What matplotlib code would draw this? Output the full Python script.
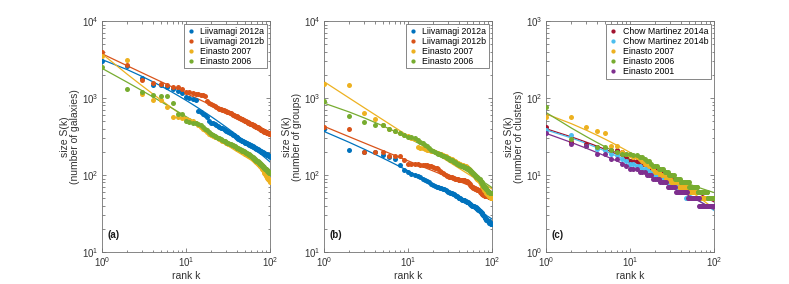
import numpy as np
import matplotlib
matplotlib.use("Agg")
import matplotlib.pyplot as plt
from matplotlib.ticker import LogLocator, LogFormatterSciNotation, NullFormatter

plt.rcParams['font.family'] = ['Liberation Sans', 'DejaVu Sans']
plt.rcParams['mathtext.fontset'] = 'custom'
plt.rcParams['mathtext.rm'] = 'Liberation Sans'
plt.rcParams['mathtext.default'] = 'regular'

rank = list(range(1, 101))

# ---- panel (a): galaxies ----
a_liiv12a = [3050, 2600, 1800, 1480, 1480, 1380, 1300, 1220, 1150, 1040,
             1000, 960, 930, 680, 650, 620, 600, 560, 500, 480,
             470, 460, 448, 435, 422, 412, 402, 393, 384, 375,
             368, 361, 354, 347, 340, 333, 326, 320, 314, 308,
             300, 296, 291, 287, 283, 279, 276, 273, 270, 267,
             264, 261, 258, 255, 252, 249, 246, 244, 242, 240,
             238, 236, 233, 231, 229, 227, 225, 222, 220, 218,
             216, 214, 212, 210, 208, 206, 204, 203, 201, 200,
             198, 197, 195, 194, 193, 191, 190, 189, 187, 186,
             185, 184, 182, 181, 180, 178, 177, 176, 174, 173]
a_liiv12b = [3900, 2700, 1700, 1580, 1500, 1460, 1400, 1380, 1300, 1200,
             1180, 1160, 1140, 1120, 1100, 1080, 1050, 920, 860, 830,
             800, 780, 760, 745, 730, 715, 700, 690, 680, 670,
             660, 650, 640, 630, 620, 610, 600, 592, 585, 578,
             570, 562, 555, 548, 541, 534, 528, 522, 516, 510,
             504, 498, 492, 486, 480, 474, 470, 466, 462, 458,
             454, 450, 446, 442, 438, 434, 430, 426, 422, 418,
             414, 410, 406, 402, 398, 394, 391, 388, 385, 382,
             379, 376, 373, 370, 368, 366, 364, 362, 360, 358,
             356, 354, 352, 350, 348, 347, 346, 345, 344, 343]
a_ein07 = [3500, 3150, 1130, 940, 940, 765, 560, 560, 550, 533,
           520, 500, 470, 440, 420, 400, 380, 360, 345, 330,
           325, 316, 308, 300, 292, 285, 279, 273, 268, 263,
           259, 255, 251, 247, 243, 239, 235, 231, 227, 223,
           220, 217, 214, 211, 208, 205, 202, 199, 196, 193,
           190, 188, 186, 184, 182, 180, 178, 175, 172, 169,
           166, 163, 160, 158, 155, 153, 150, 148, 146, 144,
           142, 140, 138, 136, 134, 132, 130, 128, 126, 124,
           121, 118, 115, 112, 109, 106, 104, 102, 100, 98,
           96, 94, 92, 90, 89, 88, 87, 86, 84, 82]
a_ein06 = [2550, 1300, 1200, 1085, 1050, 1050, 870, 620, 620, 500,
           490, 480, 470, 455, 440, 420, 400, 385, 360, 340,
           330, 320, 312, 305, 298, 291, 285, 279, 273, 268,
           263, 259, 255, 251, 247, 243, 239, 235, 231, 227,
           224, 221, 219, 217, 214, 211, 208, 205, 202, 199,
           196, 194, 192, 190, 188, 186, 184, 182, 179, 176,
           173, 171, 168, 166, 163, 161, 158, 156, 154, 152,
           150, 148, 146, 144, 142, 140, 138, 137, 135, 133,
           131, 129, 128, 126, 125, 123, 121, 120, 119, 118,
           116, 115, 114, 112, 111, 110, 109, 107, 106, 105]

# ---- panel (b): groups ----
b_liiv12a = [395, 211, 200, 196, 180, 170, 160, 136, 116, 108,
             104, 101, 98, 94, 90, 86, 83, 80, 77, 74,
             72, 70, 69, 68, 67, 66, 65, 64, 62, 61,
             60, 59, 58, 57, 56, 55, 54, 53, 52, 51,
             50, 50, 49, 48, 48, 47, 47, 46, 46, 45,
             44, 44, 43, 42, 42, 41, 41, 40, 40, 39,
             39, 38, 38, 38, 37, 37, 36, 36, 35, 35,
             34, 34, 33, 33, 32, 32, 31, 30, 30, 29,
             29, 28, 28, 27, 27, 26, 26, 26, 25, 25,
             25, 25, 24, 24, 24, 24, 23, 23, 23, 23]
b_liiv12b = [424, 392, 201, 201, 201, 177, 175, 175, 155, 141,
             139, 138, 137, 136, 135, 134, 133, 131, 130, 128,
             125, 122, 118, 114, 110, 106, 103, 100, 98, 96,
             95, 94, 93, 92, 91, 90, 89, 88, 88, 87,
             87, 87, 86, 86, 86, 85, 85, 84, 84, 83,
             82, 80, 78, 76, 74, 72, 71, 70, 69, 68,
             67, 67, 66, 66, 65, 65, 64, 64, 64, 63,
             62, 61, 60, 59, 58, 57, 56, 56, 55, 55,
             55, 54, 54, 54, 54, 53, 53, 53, 53, 53,
             53, 52, 52, 52, 52, 52, 52, 51, 51, 51]
b_ein07 = [1535, 1460, 640, 533, 445, 400, 375, 355, 335, 320,
           305, 290, 230, 226, 222, 218, 214, 210, 206, 202,
           198, 195, 192, 189, 186, 183, 179, 176, 172, 168,
           165, 162, 159, 156, 153, 150, 147, 145, 143, 141,
           139, 137, 135, 134, 133, 132, 131, 130, 129, 128,
           125, 122, 119, 116, 113, 110, 108, 106, 104, 102,
           100, 98, 96, 94, 92, 90, 89, 88, 87, 85,
           83, 81, 79, 77, 75, 73, 71, 69, 67, 65,
           64, 63, 62, 61, 60, 59, 58, 57, 56, 55,
           54, 54, 53, 53, 52, 52, 51, 51, 50, 50]
b_ein06 = [915, 583, 488, 445, 445, 392, 370, 348, 330, 316,
           316, 300, 285, 270, 258, 246, 235, 224, 213, 202,
           198, 194, 190, 186, 182, 178, 175, 171, 168, 164,
           161, 158, 155, 152, 149, 146, 143, 140, 138, 136,
           135, 133, 131, 130, 129, 128, 127, 126, 125, 124,
           122, 120, 118, 116, 114, 112, 110, 108, 106, 104,
           102, 100, 98, 96, 95, 94, 93, 92, 91, 90,
           88, 86, 84, 82, 80, 78, 76, 74, 72, 71,
           70, 69, 68, 67, 66, 65, 64, 63, 62, 61,
           61, 60, 60, 59, 59, 59, 58, 58, 58, 58]

# ---- panel (c): clusters ----
c_chow14a = [42, 27, 25, 23, 22, 21, 21, 20, 17, 15,
             15, 15, 14, 14, 14, 13, 13, 12, 12, 12,
             11, 11, 11, 11, 10, 10, 10, 10, 10, 9,
             9, 9, 9, 9, 8, 8, 8, 8, 8, 8,
             7, 7, 7, 7, 7, 7, 7, 7, 7, 6,
             6, 6, 6, 6, 6, 6, 6, 6, 6, 6,
             6, 6, 6, 6, 5, 5, 5, 5, 5, 5,
             5, 5, 5, 5, 5, 5, 5, 5, 5, 5,
             5, 5, 5, 5, 5, 5, 5, 5, 5, 5,
             5, 5, 5, 5, 5, 5, 5, 5, 5, 5]
c_chow14b = [38, 33, 24, 22, 21, 19, 18, 16, 15, 14,
             14, 13, 13, 12, 12, 12, 11, 11, 10, 10,
             10, 10, 9, 9, 9, 9, 9, 8, 8, 8,
             8, 8, 8, 7, 7, 7, 7, 7, 7, 6,
             6, 6, 6, 6, 6, 6, 5, 5, 5, 5,
             5, 5, 5, 5, 5, 5, 5, 5, 5, 5,
             5, 5, 5, 5, 5, 5, 5, 4, 4, 4,
             4, 4, 4, 4, 4, 4, 4, 4, 4, 4,
             4, 4, 4, 4, 4, 4, 4, 4, 4, 4,
             4, 4, 4, 4, 4, 4, 4, 4, 4, 4]
c_ein07 = [57, 56, 42, 37, 35, 24, 24, 20, 19, 18,
           17, 17, 16, 15, 14, 14, 13, 13, 12, 11,
           11, 11, 10, 10, 10, 10, 9, 9, 9, 9,
           8, 8, 8, 8, 8, 8, 8, 7, 7, 7,
           7, 7, 7, 7, 7, 7, 7, 7, 7, 7,
           6, 6, 6, 6, 6, 6, 6, 6, 6, 6,
           6, 6, 6, 6, 5, 5, 5, 5, 5, 5,
           5, 5, 5, 5, 5, 5, 5, 5, 5, 5,
           5, 5, 5, 5, 5, 5, 5, 5, 5, 5,
           4, 4, 4, 4, 4, 4, 4, 4, 4, 4]
c_ein06 = [76, 29, 24, 23, 23, 21, 20, 19, 19, 19,
           18, 18, 17, 17, 16, 15, 15, 14, 13, 13,
           13, 12, 12, 12, 12, 11, 11, 11, 10, 10,
           10, 10, 10, 9, 9, 9, 9, 9, 9, 8,
           8, 8, 8, 8, 8, 8, 8, 8, 8, 8,
           7, 7, 7, 7, 7, 7, 7, 7, 7, 7,
           7, 7, 7, 6, 6, 6, 6, 6, 6, 6,
           6, 6, 6, 6, 6, 6, 6, 6, 6, 6,
           6, 6, 6, 5, 5, 5, 5, 5, 5, 5,
           5, 5, 5, 5, 5, 5, 5, 5, 5, 5]
c_ein01 = [35, 25, 24, 19, 19, 16, 16, 14, 13, 12,
           12, 12, 11, 11, 11, 10, 10, 10, 9, 9,
           9, 9, 8, 8, 8, 8, 8, 7, 7, 7,
           7, 7, 7, 7, 6, 6, 6, 6, 6, 6,
           6, 6, 6, 6, 6, 6, 6, 6, 5, 5,
           5, 5, 5, 5, 5, 5, 5, 5, 5, 5,
           5, 5, 5, 5, 5, 5, 4, 4, 4, 4,
           4, 4, 4, 4, 4, 4, 4, 4, 4, 4,
           4, 4, 4, 4, 4, 4, 4, 4, 4, 4,
           4, 4, 4, 4, 4, 4, 4, 4, 4, 4]

C_BLUE = '#0072BD'; C_RED = '#D95319'; C_YEL = '#EDB120'
C_PUR = '#7E2F8E'; C_GRN = '#77AC30'; C_CYAN = '#4DBEEE'; C_DRED = '#A2142F'

panels = [
    dict(series=[("Liivamagi 2012a", a_liiv12a, C_BLUE), ("Liivamagi 2012b", a_liiv12b, C_RED),
                 ("Einasto 2007", a_ein07, C_YEL), ("Einasto 2006", a_ein06, C_GRN)],
         ylim=(10, 1e4), ylabel="size S(k)\n(number of galaxies)", tag="(a)", left=102),
    dict(series=[("Liivamagi 2012a", b_liiv12a, C_BLUE), ("Liivamagi 2012b", b_liiv12b, C_RED),
                 ("Einasto 2007", b_ein07, C_YEL), ("Einasto 2006", b_ein06, C_GRN)],
         ylim=(10, 1e4), ylabel="size S(k)\n(number of groups)", tag="(b)", left=324),
    dict(series=[("Chow Martinez 2014a", c_chow14a, C_DRED), ("Chow Martinez 2014b", c_chow14b, C_CYAN),
                 ("Einasto 2007", c_ein07, C_YEL), ("Einasto 2006", c_ein06, C_GRN),
                 ("Einasto 2001", c_ein01, C_PUR)],
         ylim=(1, 1e3), ylabel="size S(k)\n(number of clusters)", tag="(c)", left=546),
]

W, H = 789, 284
fig = plt.figure(figsize=(W / 100, H / 100), dpi=100)
k = np.array(rank, dtype=float)
lk = np.log10(k)
wts = 1.0 / np.sqrt(k)   # equal weight per decade of rank in the log-log fit

for p in panels:
    ax = fig.add_axes([p['left'] / W, 1 - 252 / H, 168 / W, 231 / H])
    for name, vals, col in p['series']:
        v = np.array(vals, dtype=float)
        ax.plot(k, v, 'o', ms=3.6, mec='none', color=col, label=name, zorder=3)
        coef = np.polyfit(lk, np.log10(v), 2, w=wts)
        ax.plot(k, 10 ** np.polyval(coef, lk), '-', lw=0.9, color=col, zorder=2)
    ax.set_xscale('log'); ax.set_yscale('log')
    ax.set_xlim(1, 100); ax.set_ylim(*p['ylim'])
    for axis in (ax.xaxis, ax.yaxis):
        axis.set_major_locator(LogLocator(base=10, numticks=10))
        axis.set_minor_locator(LogLocator(base=10, subs=np.arange(2, 10), numticks=10))
        axis.set_major_formatter(LogFormatterSciNotation())
        axis.set_minor_formatter(NullFormatter())
    ax.tick_params(which='both', direction='in', top=True, right=True,
                   color='0.35', labelsize=7, labelcolor='0.2', width=0.5)
    ax.tick_params(which='major', length=3, pad=2.5)
    ax.tick_params(which='minor', length=1.8)
    for s in ax.spines.values():
        s.set_color('0.45'); s.set_linewidth(0.6)
    ax.set_xlabel('rank k', fontsize=7.5, color='0.2', labelpad=1)
    ax.set_ylabel(p['ylabel'], fontsize=7.5, color='0.2', linespacing=1.0)
    ax.yaxis.set_label_coords(-0.128, 0.5)
    ax.text(0.035, 0.05, p['tag'], transform=ax.transAxes, fontsize=7,
            fontweight='bold', color='0.1', va='bottom', ha='left')
    leg = ax.legend(loc='upper right', fontsize=6.3, frameon=True, fancybox=False,
                    edgecolor='0.45', framealpha=1, handlelength=1.0, handletextpad=0.6,
                    borderpad=0.3, labelspacing=0.12, borderaxespad=0.35, markerscale=0.85)
    leg.get_frame().set_linewidth(0.6)

fig.savefig('out.png', dpi=100)
